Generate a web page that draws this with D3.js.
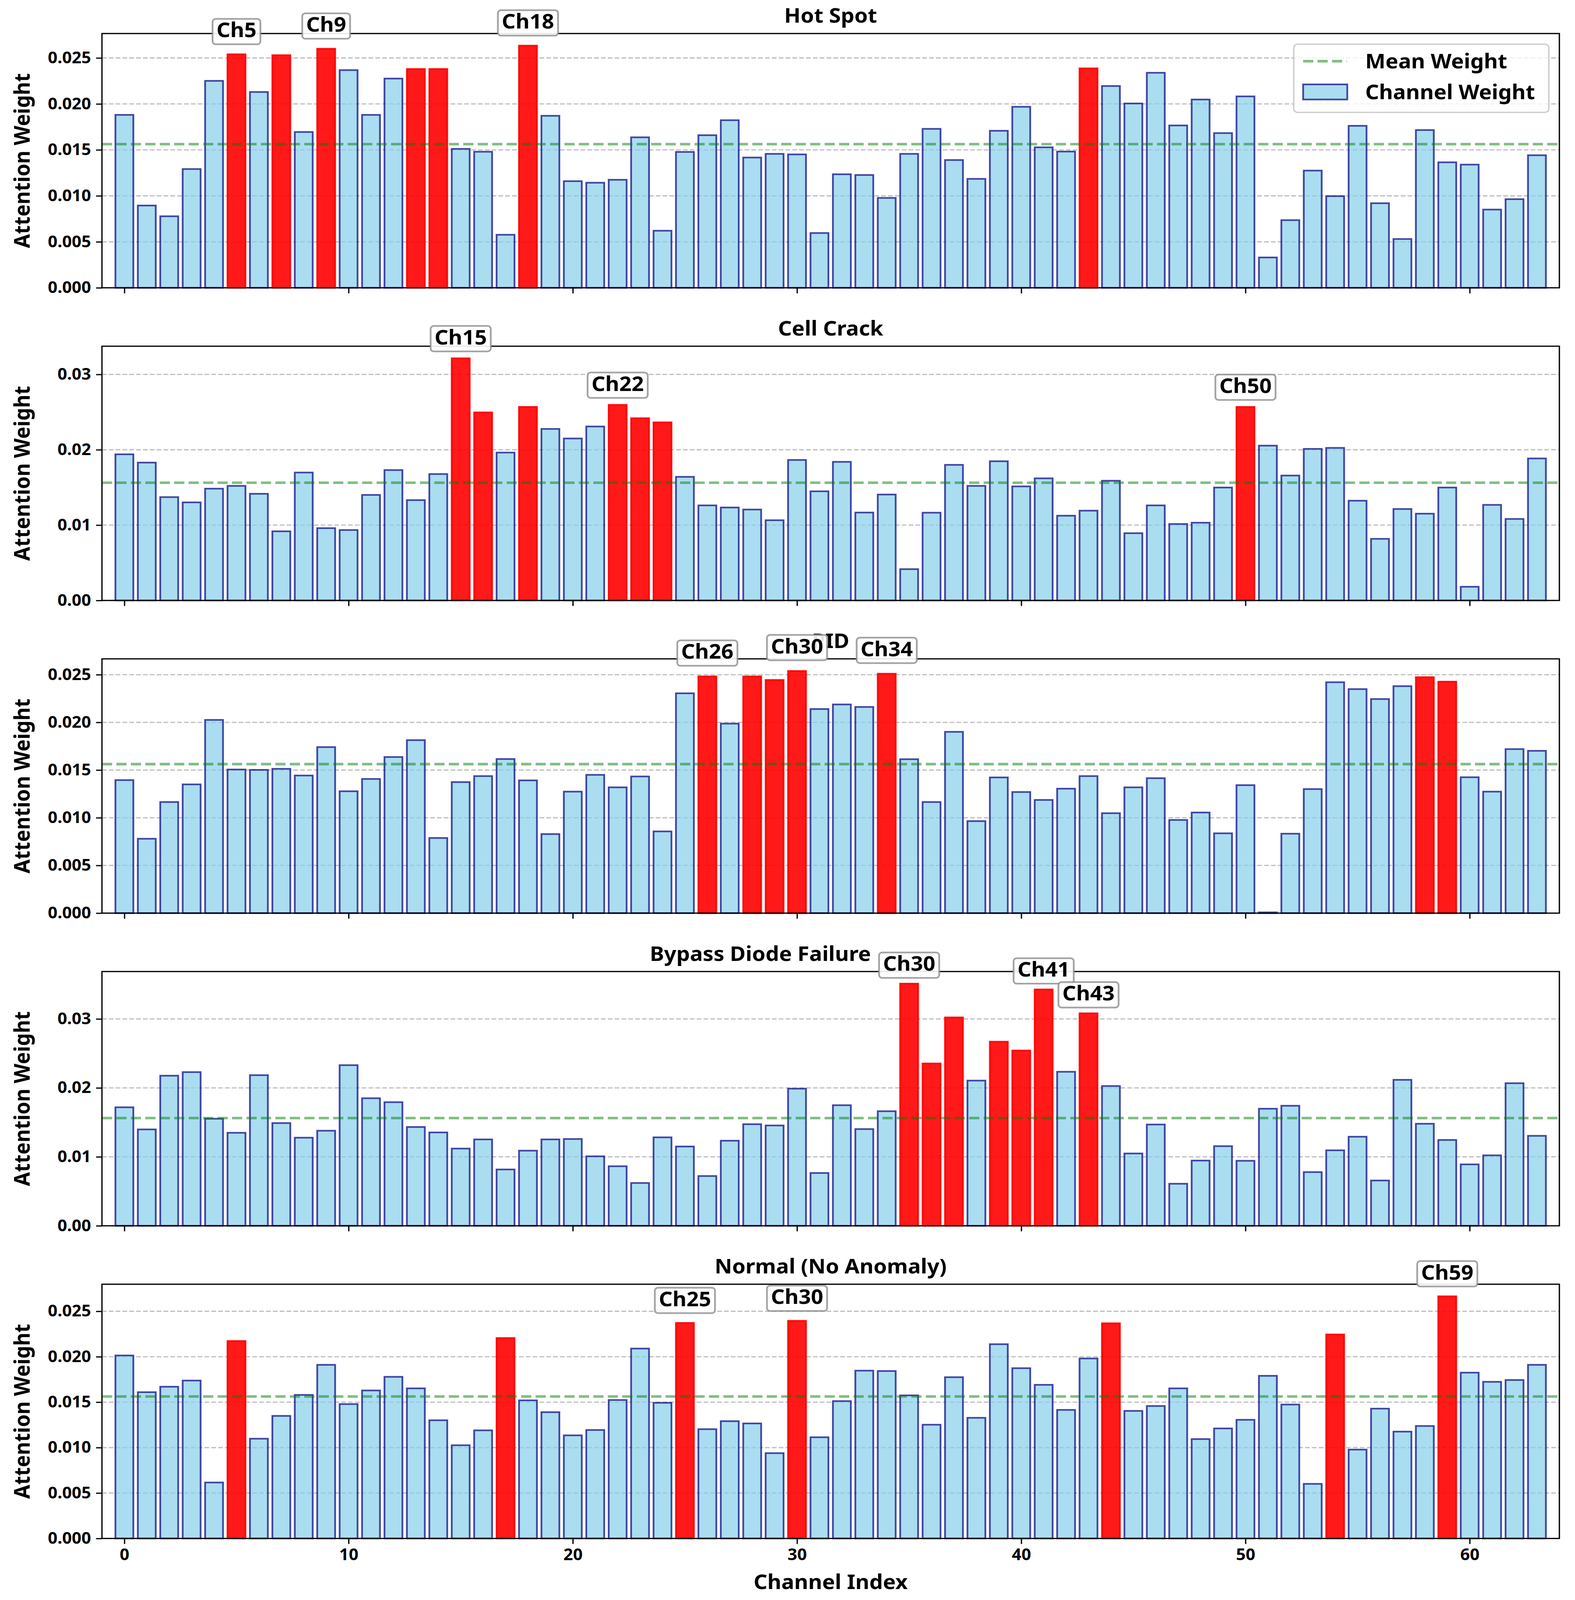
<!DOCTYPE html>
<html>
<head>
<meta charset="utf-8">
<script src="https://cdn.jsdelivr.net/npm/d3@7"></script>
<style>
  html, body { margin: 0; padding: 0; background: #fff; overflow: hidden; }
  #chart svg { display: block; width: 100vw; height: 100vh; }
  text { font-family: "Noto Sans", sans-serif; font-weight: 700; }
</style>
</head>
<body>
<div id="chart"></div>
<script>
// Channel attention weights per anomaly class
const channels = d3.range(64);
const meanWeight = 0.015625;

const panelTitles = ["Hot Spot", "Cell Crack", "PID", "Bypass Diode Failure", "Normal (No Anomaly)"];

const hotSpotWeights = [
  0.01881, 0.00895, 0.00778, 0.01292, 0.02251, 0.0254, 0.0213, 0.0253, 0.01695, 0.0260,
  0.02368, 0.01881, 0.02276, 0.0238, 0.0238, 0.01511, 0.0148, 0.00577, 0.02634, 0.01871,
  0.0116, 0.01143, 0.01175, 0.01637, 0.00621, 0.01478, 0.0166, 0.01823, 0.01417, 0.01457,
  0.01451, 0.00596, 0.01235, 0.01227, 0.00978, 0.01457, 0.01729, 0.0139, 0.01185, 0.01708,
  0.01969, 0.01528, 0.01482, 0.02387, 0.02195, 0.02005, 0.02339, 0.01766, 0.02048, 0.01683,
  0.02082, 0.0033, 0.00736, 0.01275, 0.00997, 0.01762, 0.0092, 0.00531, 0.01716, 0.01365,
  0.0134, 0.00851, 0.00964, 0.01442];
const cellCrackWeights = [
  0.0194, 0.0183, 0.01372, 0.01302, 0.01484, 0.01521, 0.01416, 0.00918, 0.01698, 0.0096,
  0.00935, 0.01401, 0.01731, 0.01332, 0.01678, 0.03214, 0.02496, 0.01963, 0.02569, 0.02277,
  0.0215, 0.02309, 0.02596, 0.02419, 0.02364, 0.01641, 0.01262, 0.01234, 0.01207, 0.01065,
  0.01865, 0.01449, 0.0184, 0.01167, 0.01406, 0.00416, 0.01165, 0.018, 0.01521, 0.01848,
  0.01514, 0.01621, 0.01125, 0.01192, 0.01589, 0.00893, 0.01262, 0.01015, 0.01032, 0.01499,
  0.02569, 0.02055, 0.01658, 0.02012, 0.02025, 0.01324, 0.00818, 0.01214, 0.01152, 0.01499,
  0.00182, 0.01269, 0.01082, 0.01885];
const pidWeights = [
  0.01395, 0.0078, 0.01165, 0.0135, 0.02026, 0.01506, 0.01502, 0.01513, 0.01443, 0.01741,
  0.01278, 0.01407, 0.01637, 0.01814, 0.00788, 0.01374, 0.01437, 0.01616, 0.01392, 0.00829,
  0.01274, 0.0145, 0.01319, 0.01433, 0.00857, 0.02305, 0.02482, 0.01987, 0.02482, 0.02445,
  0.02539, 0.0214, 0.02188, 0.02162, 0.0251, 0.01614, 0.01165, 0.01901, 0.00965, 0.01423,
  0.0127, 0.01187, 0.01305, 0.01437, 0.01048, 0.01319, 0.01415, 0.00977, 0.01055, 0.00837,
  0.01342, 0.00008, 0.00833, 0.01301, 0.02421, 0.02349, 0.02245, 0.0238, 0.02474, 0.02427,
  0.01425, 0.01274, 0.0172, 0.01702];
const bypassWeights = [
  0.01719, 0.01398, 0.02177, 0.02229, 0.01553, 0.01349, 0.02185, 0.0149, 0.01278, 0.01379,
  0.0233, 0.0185, 0.01793, 0.01433, 0.01354, 0.0112, 0.01253, 0.00817, 0.0109, 0.01253,
  0.01259, 0.01008, 0.00864, 0.00621, 0.01283, 0.0115, 0.00722, 0.01234, 0.01474, 0.01455,
  0.01989, 0.00766, 0.01749, 0.01403, 0.01662, 0.03512, 0.02354, 0.03022, 0.02106, 0.0267,
  0.02542, 0.03428, 0.02234, 0.03082, 0.02027, 0.01049, 0.01469, 0.0061, 0.00946, 0.01155,
  0.00943, 0.01698, 0.01741, 0.00779, 0.01095, 0.01292, 0.00657, 0.02117, 0.0148, 0.01245,
  0.00891, 0.01022, 0.02068, 0.01305];
const normalWeights = [
  0.02014, 0.0161, 0.0167, 0.01738, 0.00616, 0.02173, 0.01098, 0.01349, 0.0158, 0.01911,
  0.01479, 0.01629, 0.01779, 0.01652, 0.01301, 0.01026, 0.0119, 0.02206, 0.0152, 0.0139,
  0.01135, 0.01194, 0.01524, 0.0209, 0.01493, 0.02372, 0.01203, 0.01291, 0.01266, 0.00939,
  0.02395, 0.01114, 0.01512, 0.01847, 0.01843, 0.01575, 0.01252, 0.01775, 0.01328, 0.02138,
  0.01874, 0.01691, 0.01415, 0.01981, 0.02368, 0.01404, 0.01458, 0.01652, 0.01094, 0.01211,
  0.01306, 0.0179, 0.01474, 0.00601, 0.02245, 0.00978, 0.01429, 0.01176, 0.01238, 0.02665,
  0.01825, 0.01724, 0.01744, 0.01911];

// highlighted (top) channels per class
const hotSpotTop = [5, 7, 9, 13, 14, 18, 43];
const cellCrackTop = [15, 16, 18, 22, 23, 24, 50];
const pidTop = [26, 28, 29, 30, 34, 58, 59];
const bypassTop = [35, 36, 37, 39, 40, 41, 43];
const normalTop = [5, 17, 25, 30, 44, 54, 59];

// annotated channels and their label text
const hotSpotNoteCh = [5, 9, 18];       const hotSpotNotes = ["Ch5", "Ch9", "Ch18"];
const cellCrackNoteCh = [15, 22, 50];   const cellCrackNotes = ["Ch15", "Ch22", "Ch50"];
const pidNoteCh = [26, 30, 34];         const pidNotes = ["Ch26", "Ch30", "Ch34"];
const bypassNoteCh = [35, 41, 43];      const bypassNotes = ["Ch30", "Ch41", "Ch43"];
const normalNoteCh = [25, 30, 59];      const normalNotes = ["Ch25", "Ch30", "Ch59"];

const ticks3 = [0, 0.005, 0.01, 0.015, 0.02, 0.025];
const ticks2 = [0, 0.01, 0.02, 0.03];
const xTicks = [0, 10, 20, 30, 40, 50, 60];

const panelWeights = [hotSpotWeights, cellCrackWeights, pidWeights, bypassWeights, normalWeights];
const panelTop = [hotSpotTop, cellCrackTop, pidTop, bypassTop, normalTop];
const panelNoteCh = [hotSpotNoteCh, cellCrackNoteCh, pidNoteCh, bypassNoteCh, normalNoteCh];
const panelNotes = [hotSpotNotes, cellCrackNotes, pidNotes, bypassNotes, normalNotes];
const panelTicks = [ticks3, ticks2, ticks3, ticks2, ticks3];
const panelTickFmt = [".3f", ".2f", ".3f", ".2f", ".3f"];

// layout (drawn in a 4032x4342 frame, scaled to the window)
const W = 4032, H = 4342;
const left = 261, right = 3992;
const axTop0 = 91, axStep = 848.5, axH = 690;
const titleShift = [0, 0, 0, -180, 0];
const tickFont = 43, labelFont = 55;

const svg = d3.select("#chart").append("svg")
    .attr("viewBox", `0 0 ${W} ${H}`)
    .attr("preserveAspectRatio", "none");

const x = d3.scaleLinear().domain([-1, 64]).range([left, right]);
const barW = x(0.8) - x(0);

panelWeights.forEach(function (weights, p) {
    const top = axTop0 + p * axStep;
    const bottom = top + axH;
    const y = d3.scaleLinear().domain([0, d3.max(weights) * 1.05]).range([bottom, top]);
    const g = svg.append("g");
    const topSet = new Set(panelTop[p]);

    // grid (under the bars)
    g.append("g").selectAll("line")
        .data(panelTicks[p]).enter().append("line")
        .attr("x1", left).attr("x2", right)
        .attr("y1", d => y(d)).attr("y2", d => y(d))
        .attr("stroke", "#808080").attr("stroke-opacity", 0.5)
        .attr("stroke-width", 3.3).attr("stroke-dasharray", "12,5.5");

    // bars
    g.append("g").selectAll("rect")
        .data(channels).enter().append("rect")
        .attr("x", d => x(d) - barW / 2)
        .attr("width", barW)
        .attr("y", d => y(weights[d]))
        .attr("height", d => bottom - y(weights[d]))
        .attr("fill", d => topSet.has(d) ? "red" : "skyblue")
        .attr("fill-opacity", d => topSet.has(d) ? 0.9 : 0.7)
        .attr("stroke", d => topSet.has(d) ? "red" : "navy")
        .attr("stroke-opacity", d => topSet.has(d) ? 0.9 : 0.7)
        .attr("stroke-width", 4.5);

    // mean line
    g.append("line")
        .attr("x1", left).attr("x2", right)
        .attr("y1", y(meanWeight)).attr("y2", y(meanWeight))
        .attr("stroke", "green").attr("stroke-opacity", 0.5)
        .attr("stroke-width", 7).attr("stroke-dasharray", "26,11");

    // axes
    const yAxis = d3.axisLeft(y).tickValues(panelTicks[p])
        .tickFormat(d3.format(panelTickFmt[p])).tickSize(15).tickPadding(13);
    const yg = g.append("g").attr("transform", `translate(${left},0)`).call(yAxis);
    const xAxis = d3.axisBottom(x).tickValues(xTicks).tickSize(15).tickPadding(13)
        .tickFormat(p === 4 ? d3.format("d") : "");
    const xg = g.append("g").attr("transform", `translate(0,${bottom})`).call(xAxis);
    [yg, xg].forEach(function (a) {
        a.select(".domain").remove();
        a.selectAll(".tick line").attr("stroke", "#000").attr("stroke-width", 3.3);
        a.selectAll(".tick text").attr("fill", "#000")
            .style("font-size", tickFont + "px")
            .style("font-family", "'Noto Sans', sans-serif").style("font-weight", 700);
    });

    g.append("rect")
        .attr("x", left).attr("y", top).attr("width", right - left).attr("height", axH)
        .attr("fill", "none").attr("stroke", "#000").attr("stroke-width", 3.3);

    // y label
    g.append("text")
        .attr("transform", `translate(76,${(top + bottom) / 2}) rotate(-90)`)
        .attr("text-anchor", "middle")
        .style("font-size", labelFont + "px")
        .text("Attention Weight");

    // title
    g.append("text")
        .attr("x", (left + right) / 2 + titleShift[p]).attr("y", top - 29)
        .attr("text-anchor", "middle")
        .style("font-size", labelFont + "px")
        .text(panelTitles[p]);

    // annotations
    panelNoteCh[p].forEach(function (ch, i) {
        const tx = x(ch);
        const ty = y(weights[ch] + 0.00185);
        const note = g.append("g");
        const box = note.append("rect");
        const t = note.append("text")
            .attr("x", tx).attr("y", ty).attr("text-anchor", "middle")
            .style("font-size", labelFont + "px")
            .text(panelNotes[p][i]);
        const tw = t.node().getComputedTextLength();
        box.attr("x", tx - tw / 2 - 10).attr("y", ty - 50)
            .attr("width", tw + 20).attr("height", 69)
            .attr("rx", 8).attr("ry", 8)
            .attr("fill", "#fff").attr("fill-opacity", 0.9)
            .attr("stroke", "#8c8c8c").attr("stroke-opacity", 0.8)
            .attr("stroke-width", 4.5);
    });

    if (p === 0) {
        const lg = g.append("g");
        lg.append("rect")
            .attr("x", 3312).attr("y", 120).attr("width", 653).attr("height", 185)
            .attr("rx", 10).attr("ry", 10)
            .attr("fill", "#fff").attr("fill-opacity", 0.8)
            .attr("stroke", "#cccccc").attr("stroke-width", 3.5);
        lg.append("line")
            .attr("x1", 3336).attr("x2", 3448).attr("y1", 166).attr("y2", 166)
            .attr("stroke", "green").attr("stroke-opacity", 0.5)
            .attr("stroke-width", 7).attr("stroke-dasharray", "26,11");
        lg.append("rect")
            .attr("x", 3336).attr("y", 229).attr("width", 113).attr("height", 41)
            .attr("fill", "skyblue").attr("fill-opacity", 0.7)
            .attr("stroke", "navy").attr("stroke-opacity", 0.7).attr("stroke-width", 4.5);
        lg.append("text").attr("x", 3495).attr("y", 185)
            .style("font-size", labelFont + "px").text("Mean Weight");
        lg.append("text").attr("x", 3495).attr("y", 269)
            .style("font-size", labelFont + "px").text("Channel Weight");
    }
});

// x label
svg.append("text")
    .attr("x", (left + right) / 2).attr("y", 4312)
    .attr("text-anchor", "middle")
    .style("font-size", labelFont + "px")
    .text("Channel Index");
</script>
</body>
</html>
